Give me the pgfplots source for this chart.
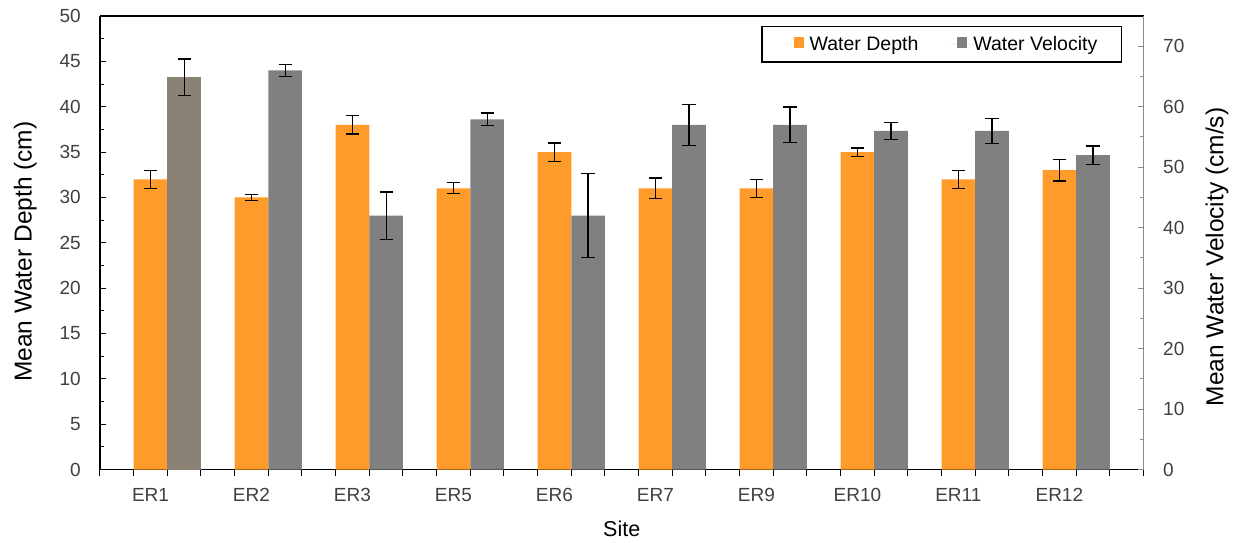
\documentclass[border=0pt]{standalone}
\usepackage{pgfplots}
\pgfplotsset{compat=1.18}
\usepackage{fontspec}
\setmainfont{Liberation Sans}
\definecolor{barorange}{HTML}{FF9B2B}
\definecolor{bargray}{HTML}{808080}
\definecolor{bargrayA}{HTML}{8A8274}
\definecolor{ticktext}{HTML}{404040}
\definecolor{rightaxis}{HTML}{8C8C8C}

\begin{document}
\begin{tikzpicture}
\useasboundingbox (-100pt,-72.5pt) rectangle (1144pt,469.5pt);
\begin{axis}[
  scale only axis, width=1043.5pt, height=453.5pt,
  xmin=0, xmax=31, ymin=0, ymax=50,
  axis x line*=bottom, axis y line*=left,
  axis line style={black, line width=1.3pt},
  tick align=inside,
  major tick length=6pt, minor tick length=4pt,
  tick style={black, line width=1pt},
  /pgf/number format/assume math mode=true,
  tick label style={font=\fontsize{19}{22}\selectfont, text=ticktext},
  xtick={0,...,31}, xticklabels={},
  x tick style={yshift=-6pt},
  extra x ticks={1.5,4.5,7.5,10.5,13.5,16.5,19.5,22.5,25.5,28.5},
  extra x tick labels={ER1,ER2,ER3,ER5,ER6,ER7,ER9,ER10,ER11,ER12},
  extra x tick style={major tick length=0pt},
  x tick label style={anchor=base, yshift=-32.2pt, inner sep=0pt},
  ytick={0,5,...,50}, minor y tick num=1,
  y tick label style={anchor=east, inner sep=0pt, xshift=-19pt},
  xlabel={Site},
  xlabel style={at={(axis description cs:0.5,0)}, anchor=base, yshift=-66.5pt, font=\fontsize{21.5}{24}\selectfont},
  ylabel={Mean Water Depth (cm)},
  ylabel style={at={(axis description cs:-0.06545,0.4803)}, anchor=base, font=\fontsize{24.5}{28}\selectfont},
  after end axis/.code={\draw[black, line width=1.3pt] (rel axis cs:0,1) -- (rel axis cs:1,1);},
]
\addplot[ybar, bar width=1, bar shift=0pt, fill=barorange, draw=none,
  error bars/.cd, y dir=both, y explicit,
  error bar style={black, line width=1.2pt},
  error mark options={black, line width=1.2pt, mark size=6.6pt, rotate=90}]
coordinates {
 (1.5,32) +- (0,1.0)
 (4.5,30) +- (0,0.3)
 (7.5,38) +- (0,1.0)
 (10.5,31) +- (0,0.6)
 (13.5,35) +- (0,1.0)
 (16.5,31) +- (0,1.15)
 (19.5,31) +- (0,1.0)
 (22.5,35) +- (0,0.45)
 (25.5,32) +- (0,1.0)
 (28.5,33) +- (0,1.2)
};
\end{axis}
\begin{axis}[
  scale only axis, width=1043.5pt, height=453.5pt,
  xmin=0, xmax=31, ymin=0, ymax=75,
  axis x line=none, axis y line*=right,
  y axis line style={rightaxis, line width=1.3pt},
  tick align=inside,
  major tick length=6pt, minor tick length=4pt,
  tick style={rightaxis, line width=1pt},
  /pgf/number format/assume math mode=true,
  tick label style={font=\fontsize{19}{22}\selectfont, text=ticktext},
  ytick={0,10,...,70}, minor y tick num=1,
  y tick label style={anchor=west, inner sep=0pt, xshift=19.5pt},
  ylabel={Mean Water Velocity (cm/s)},
  ylabel style={at={(axis description cs:1.07647,0.4686)}, anchor=base, font=\fontsize{24.5}{28}\selectfont},
  legend columns=2,
  legend style={at={(axis description cs:0.97968,0.97861)}, anchor=north east,
    draw=black, line width=1.3pt, inner xsep=24.3pt, inner ysep=10pt,
    font=\fontsize{19.5}{22}\selectfont, nodes={inner sep=0pt},
    /tikz/every even column/.append style={column sep=31.6pt}},
  legend image code/.code={\path (-7.4pt,0pt) -- (16pt,0pt); \fill[#1] (0pt,-4.2pt) rectangle (10pt,7.1pt);},
]
\addplot[ybar, bar width=1, bar shift=0pt, fill=bargrayA, draw=none, forget plot,
  error bars/.cd, y dir=both, y explicit,
  error bar style={black, line width=1.2pt},
  error mark options={black, line width=1.2pt, mark size=6.6pt, rotate=90}]
coordinates {
 (2.5,64.9) +- (0,3.0)
};
\addplot[ybar, bar width=1, bar shift=0pt, fill=bargray, draw=none, forget plot,
  error bars/.cd, y dir=both, y explicit,
  error bar style={black, line width=1.2pt},
  error mark options={black, line width=1.2pt, mark size=6.6pt, rotate=90}]
coordinates {
 (5.5,66) +- (0,0.95)
 (8.5,42) +- (0,3.9)
 (11.5,57.9) +- (0,1.05)
 (14.5,42) +- (0,7.0)
 (17.5,57) +- (0,3.4)
 (20.5,57) +- (0,2.95)
 (23.5,56) +- (0,1.4)
 (26.5,56) +- (0,2.05)
 (29.5,52) +- (0,1.5)
};
\addlegendimage{fill=barorange, draw=none}
\addlegendentry{Water Depth}
\addlegendimage{fill=bargray, draw=none}
\addlegendentry{Water Velocity}
\end{axis}
\end{tikzpicture}
\end{document}
